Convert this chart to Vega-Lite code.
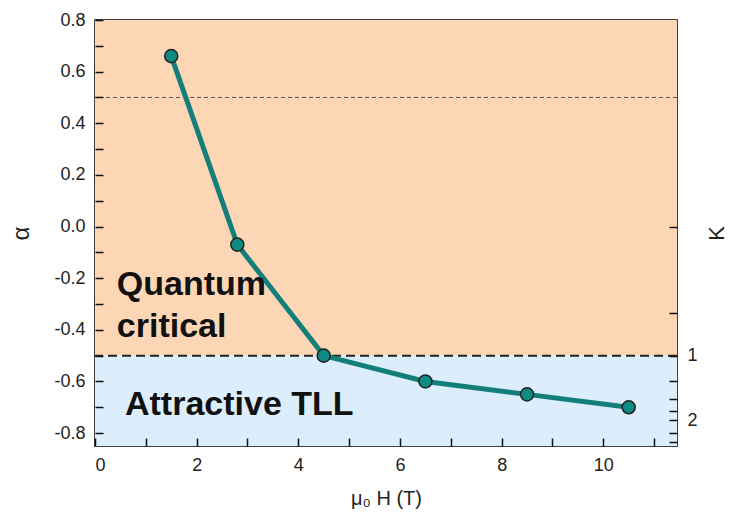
{
  "$schema": "https://vega.github.io/schema/vega-lite/v6.json",
  "width": 582,
  "height": 426,
  "autosize": "none",
  "padding": {"left": 95, "top": 20, "right": 52, "bottom": 78},
  "background": "white",
  "config": {
    "view": {"stroke": "#000", "strokeWidth": 1.5},
    "axis": {
      "labelFont": "Liberation Sans",
      "titleFont": "Liberation Sans",
      "labelFontSize": 18,
      "labelColor": "#222",
      "titleColor": "#222",
      "titleFontWeight": "normal",
      "domain": false,
      "grid": false,
      "ticks": true,
      "tickColor": "#111",
      "tickWidth": 1.5,
      "tickSize": 8,
      "offset": -8
    }
  },
  "datasets": {
    "bands": [
      {"x0": 0, "x1": 11.45, "a0": -0.5, "a1": 0.8, "region": "Quantum critical"},
      {"x0": 0, "x1": 11.45, "a0": -0.85, "a1": -0.5, "region": "Attractive TLL"}
    ],
    "pts": [
      {"H": 1.5, "alpha": 0.66},
      {"H": 2.8, "alpha": -0.07},
      {"H": 4.5, "alpha": -0.5},
      {"H": 6.5, "alpha": -0.6},
      {"H": 8.5, "alpha": -0.65},
      {"H": 10.5, "alpha": -0.7}
    ],
    "labels": [
      {"tx": 0.43, "ty": -0.225, "label": "Quantum"},
      {"tx": 0.43, "ty": -0.39, "label": "critical"},
      {"tx": 0.59, "ty": -0.69, "label": "Attractive TLL"}
    ]
  },
  "layer": [
    {
      "data": {"name": "bands"},
      "mark": {"type": "rect"},
      "encoding": {
        "x": {
          "field": "x0", "type": "quantitative",
          "scale": {"domain": [0, 11.45], "nice": false, "zero": false},
          "axis": {
            "values": [0, 1, 2, 3, 4, 5, 6, 7, 8, 9, 10, 11],
            "labelExpr": "datum.value % 2 == 0 ? datum.value : ''",
            "title": "μ₀ H (T)",
            "titleFontSize": 20,
            "labelPadding": 10,
            "titlePadding": 14,
            "zindex": 1
          }
        },
        "x2": {"field": "x1"},
        "y": {
          "field": "a0", "type": "quantitative",
          "scale": {"domain": [-0.85, 0.8], "nice": false, "zero": false},
          "axis": {
            "values": [-0.8, -0.7, -0.6, -0.5, -0.4, -0.3, -0.2, -0.1, 0, 0.1, 0.2, 0.3, 0.4, 0.5, 0.6, 0.7, 0.8],
            "labelExpr": "abs(round(datum.value*10)) % 2 == 0 ? replace(format(datum.value, '.1f'), '−', '-') : ''",
            "title": "α",
            "titleFontSize": 24,
            "labelPadding": 10,
            "titlePadding": 20,
            "zindex": 1
          }
        },
        "y2": {"field": "a1"},
        "color": {
          "field": "region", "type": "nominal",
          "scale": {"domain": ["Quantum critical", "Attractive TLL"], "range": ["#FDD6B6", "#DCEDFC"]},
          "legend": null
        }
      }
    },
    {
      "data": {"values": [{"a": -0.5}]},
      "mark": {"type": "rule", "color": "#222", "strokeWidth": 2, "strokeDash": [9, 5]},
      "encoding": {
        "y": {
          "field": "a", "type": "quantitative",
          "scale": {"domain": [-0.85, 0.8], "nice": false, "zero": false},
          "axis": {
            "orient": "right",
            "values": [0, -0.3333, -0.5, -0.6, -0.6667, -0.7143, -0.75, -0.8, -0.8333],
            "labelExpr": "datum.value == -0.5 ? '1' : (datum.value == -0.75 ? '2' : '')",
            "title": "K",
            "titleFontSize": 22,
            "titleAngle": -90,
            "labelPadding": 10,
            "titlePadding": 31,
            "zindex": 1
          }
        }
      }
    },
    {
      "layer": [
        {
          "data": {"values": [{"a": 0.5}]},
          "mark": {"type": "rule", "color": "#555", "strokeWidth": 1, "strokeDash": [4, 3]},
          "encoding": {
            "y": {"field": "a", "type": "quantitative", "scale": {"domain": [-0.85, 0.8], "nice": false, "zero": false}, "axis": null}
          }
        },
        {
          "data": {"name": "pts"},
          "mark": {"type": "line", "color": "#137F7A", "strokeWidth": 5},
          "encoding": {
            "x": {"field": "H", "type": "quantitative"},
            "y": {"field": "alpha", "type": "quantitative", "scale": {"domain": [-0.85, 0.8], "nice": false, "zero": false}, "axis": null}
          }
        },
        {
          "data": {"name": "pts"},
          "mark": {"type": "point", "shape": "circle", "filled": true, "fill": "#0E8A85", "stroke": "#222", "strokeWidth": 1.5, "size": 170, "opacity": 1},
          "encoding": {
            "x": {"field": "H", "type": "quantitative"},
            "y": {"field": "alpha", "type": "quantitative", "scale": {"domain": [-0.85, 0.8], "nice": false, "zero": false}, "axis": null}
          }
        },
        {
          "data": {"name": "labels"},
          "mark": {"type": "text", "align": "left", "baseline": "middle", "font": "Liberation Sans", "fontSize": 34, "fontWeight": "bold", "color": "#111"},
          "encoding": {
            "x": {"field": "tx", "type": "quantitative"},
            "y": {"field": "ty", "type": "quantitative", "scale": {"domain": [-0.85, 0.8], "nice": false, "zero": false}, "axis": null},
            "text": {"field": "label"}
          }
        }
      ]
    }
  ],
  "resolve": {"scale": {"y": "independent"}, "axis": {"y": "independent"}}
}
